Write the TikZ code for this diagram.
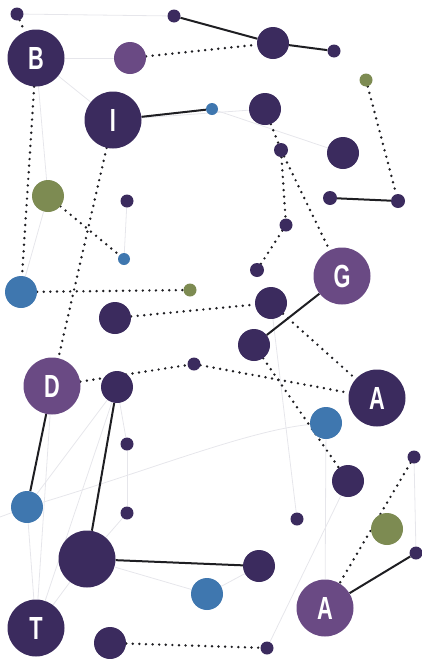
\documentclass[tikz,border=0pt]{standalone}
\usepackage{fontspec}
\setmainfont{Liberation Sans}
\usetikzlibrary{backgrounds}
\definecolor{dk}{HTML}{3B2B5E}
\definecolor{mp}{HTML}{6A4A84}
\definecolor{bl}{HTML}{3F77AF}
\definecolor{gr}{HTML}{7D8B52}
\definecolor{ln}{HTML}{1E1E22}
\definecolor{fa}{HTML}{E6E6EB}
\tikzset{
  dot/.style={circle,inner sep=0pt,minimum size=#1},
  sm/.style={dot=13pt},
  md/.style={dot=32pt},
  lg/.style={dot=57pt,text=white,font=\bfseries\fontsize{32}{32}\selectfont},
  dkf/.style={fill=dk}, mpf/.style={fill=mp}, blf/.style={fill=bl}, grf/.style={fill=gr},
  solidlink/.style={draw=ln,line width=2pt},
  dotlink/.style={draw=ln,line width=2.7pt,line cap=round,dash pattern=on 0pt off 6.6pt},
  faint/.style={draw=fa,line width=0.8pt},
}
\newcommand{\lbl}[1]{\scalebox{0.68}[1]{#1}}
\begin{document}
\begin{tikzpicture}[x=1pt,y=-1pt]
\useasboundingbox (0,0) rectangle (421,659);
% circles
\node[sm,dkf] (a1) at (17,14) {};
\node[sm,dkf] (a2) at (174,16) {};
\node[lg,dkf] (B) at (36,58) {\lbl{B}};
\node[md,mpf] (a3) at (130,58) {};
\node[md,dkf] (a4) at (273,43) {};
\node[sm,dkf] (a5) at (334,51) {};
\node[sm,grf] (g1) at (366,80) {};
\node[lg,dkf] (I) at (113,120) {\lbl{I}};
\node[dot=12pt,blf] (b1) at (212,109) {};
\node[md,dkf] (a6) at (265,109) {};
\node[dot=14pt,dkf] (a7) at (281,150) {};
\node[md,dkf] (a8) at (343,153) {};
\node[dot=14pt,dkf] (a9) at (330,198) {};
\node[dot=14pt,dkf] (a10) at (398,201) {};
\node[md,grf] (g2) at (48,196) {};
\node[sm,dkf] (a11) at (127,201) {};
\node[dot=12pt,blf] (b2) at (124,259) {};
\node[sm,dkf] (a12) at (286,225) {};
\node[dot=14pt,dkf] (a13) at (257,270) {};
\node[lg,mpf] (G) at (342,276) {\lbl{G}};
\node[md,blf] (b3) at (21,292) {};
\node[sm,grf] (g3) at (190,290) {};
\node[md,dkf] (a14) at (115,318) {};
\node[md,dkf] (a15) at (271,303) {};
\node[md,dkf] (a16) at (254,345) {};
\node[lg,mpf] (D) at (52,386) {\lbl{D}};
\node[sm,dkf] (a17) at (194,364) {};
\node[md,dkf] (a18) at (117,387) {};
\node[lg,dkf] (A1) at (377,398) {\lbl{A}};
\node[md,blf] (b4) at (326,423) {};
\node[sm,dkf] (a19) at (127,444) {};
\node[md,dkf] (a20) at (348,481) {};
\node[sm,dkf] (a21) at (414,457) {};
\node[md,blf] (b5) at (27,507) {};
\node[sm,dkf] (a22) at (127,513) {};
\node[sm,dkf] (a23) at (297,519) {};
\node[md,grf] (g4) at (387,529) {};
\node[lg,dkf] (H) at (87,559) {};
\node[md,dkf] (a24) at (259,566) {};
\node[sm,dkf] (a25) at (416,553) {};
\node[md,blf] (b6) at (207,594) {};
\node[lg,mpf] (A2) at (325,608) {\lbl{A}};
\node[lg,dkf] (T) at (36,628) {\lbl{T}};
\node[md,dkf] (a26) at (110,643) {};
\node[sm,dkf] (a27) at (267,648) {};
\coordinate (edgeL) at (0,517);
\begin{scope}[on background layer]
  % faint web
  \draw[faint] (a1) -- (a2);
  \draw[faint] (B) -- (a3);
  \draw[faint] (B) -- (g2);
  \draw[faint] (B) -- (I);
  \draw[faint] (b1) -- (a8);
  \draw[faint] (I) -- (a6);
  \draw[faint] (a11) -- (b2);
  \draw[faint] (D) -- (T);
  \draw[faint] (b5) -- (T);
  \draw[faint] (T) -- (a18);
  \draw[faint] (b5) -- (a18);
  \draw[faint] (a19) -- (a22);
  \draw[faint] (a18) -- (a19);
  \draw[faint] (a22) -- (H);
  \draw[faint] (H) -- (T);
  \draw[faint] (edgeL) -- (b5);
  \draw[faint] (b5) .. controls (150,470) and (250,430) .. (b4);
  \draw[faint] (H) -- (b6);
  \draw[faint] (a24) -- (b6);
  \draw[faint] (a27) -- (a20);
  \draw[faint] (A2) -- (b4);
  \draw[faint] (a23) -- (a15);
  \draw[faint] (a21) -- (a25);
  \draw[faint] (g2) -- (b3);
  % dotted links
  \draw[dotlink] (a3) -- (a4);
  \draw[dotlink] (a1) -- (B);
  \draw[dotlink] (B) -- (b3);
  \draw[dotlink] (I) -- (D);
  \draw[dotlink] (g2) -- (b2);
  \draw[dotlink] (g1) -- (a10);
  \draw[dotlink] (a6) -- (a7);
  \draw[dotlink] (a7) -- (a12);
  \draw[dotlink] (a7) -- (G);
  \draw[dotlink] (a12) -- (a13);
  \draw[dotlink] (b3) -- (g3);
  \draw[dotlink] (a14) -- (a15);
  \draw[dotlink] (a15) -- (A1);
  \draw[dotlink] (D) -- (a17);
  \draw[dotlink] (a17) -- (A1);
  \draw[dotlink] (a16) -- (a20);
  \draw[dotlink] (a21) -- (A2);
  \draw[dotlink] (a26) -- (a27);
  % solid links
  \draw[solidlink] (a2) -- (a4);
  \draw[solidlink] (a4) -- (a5);
  \draw[solidlink] (I) -- (b1);
  \draw[solidlink] (a9) -- (a10);
  \draw[solidlink] (G) -- (a16);
  \draw[solidlink] (D) -- (b5);
  \draw[solidlink] (a18) -- (H);
  \draw[solidlink] (H) -- (a24);
  \draw[solidlink] (A2) -- (a25);
\end{scope}
\end{tikzpicture}
\end{document}
